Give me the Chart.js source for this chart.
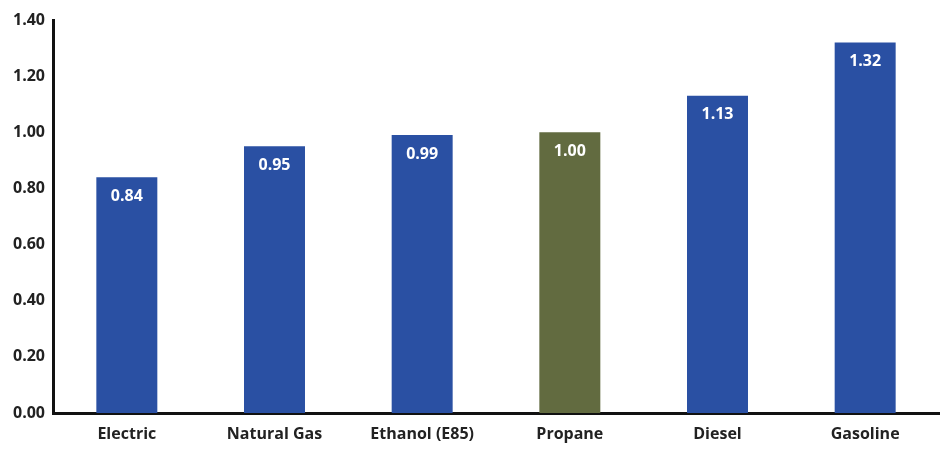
<!DOCTYPE html>
<html>
<head>
<meta charset="utf-8">
<script src="https://cdn.jsdelivr.net/npm/chart.js@4/dist/chart.umd.min.js"></script>
<style>
  html, body { margin: 0; padding: 0; background: #fff; }
  #wrap { width: 940px; height: 450px; }
</style>
</head>
<body>
<div id="wrap"><canvas id="c" width="940" height="450"></canvas></div>
<script>
// Fuel cost per mile-equivalent, relative values
const categories = ['Electric', 'Natural Gas', 'Ethanol (E85)', 'Propane', 'Diesel', 'Gasoline'];
const values = [0.84, 0.95, 0.99, 1.00, 1.13, 1.32];
const highlight = 'Propane';
const yTicks = [0, 0.2, 0.4, 0.6, 0.8, 1.0, 1.2, 1.4];

const BLUE = '#2a50a3';
const OLIVE = '#626b40';
const FONT = '"Open Sans", Lato, sans-serif';

// Writes each bar's value in white just below its top edge
const valueLabels = {
  id: 'valueLabels',
  afterDatasetsDraw(chart) {
    const ctx = chart.ctx;
    const meta = chart.getDatasetMeta(0);
    ctx.save();
    ctx.fillStyle = '#ffffff';
    ctx.font = 'bold 16px ' + FONT;
    ctx.textAlign = 'center';
    ctx.textBaseline = 'middle';
    meta.data.forEach((bar, i) => {
      ctx.fillText(values[i].toFixed(2), bar.x, bar.y + 19);
    });
    ctx.restore();
  }
};

new Chart(document.getElementById('c'), {
  type: 'bar',
  data: {
    labels: categories,
    datasets: [{
      data: values,
      backgroundColor: categories.map(c => c === highlight ? OLIVE : BLUE),
      borderWidth: 0,
      barPercentage: 0.413,
      categoryPercentage: 1.0
    }]
  },
  options: {
    responsive: false,
    animation: false,
    layout: { padding: { top: 20, right: 1, bottom: 0, left: 0 } },
    plugins: { legend: { display: false }, tooltip: { enabled: false } },
    scales: {
      x: {
        grid: { display: false, drawTicks: false },
        border: { display: true, color: '#111', width: 3 },
        ticks: {
          color: '#222',
          font: { family: FONT, size: 16, weight: 'bold' },
          padding: 12
        },
        afterFit(scale) { scale.height = 37; }
      },
      y: {
        min: 0,
        max: 1.4,
        afterBuildTicks(scale) { scale.ticks = yTicks.map(v => ({ value: v })); },
        grid: { display: false, drawTicks: false },
        border: { display: true, color: '#111', width: 3 },
        ticks: {
          color: '#222',
          font: { family: FONT, size: 16, weight: 'bold' },
          padding: 8,
          callback: v => Number(v).toFixed(2)
        },
        afterFit(scale) { scale.width = 53; }
      }
    }
  },
  plugins: [valueLabels]
});
</script>
</body>
</html>
